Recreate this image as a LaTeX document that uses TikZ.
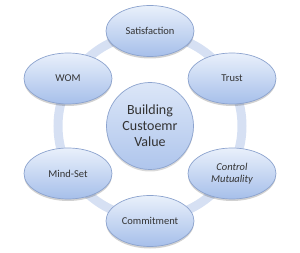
\documentclass[tikz,border=0pt]{standalone}
\usepackage{fontspec}
\setmainfont{Carlito}
\usetikzlibrary{shapes.geometric,shadows}
\definecolor{ringc}{HTML}{D6E0F3}
\definecolor{topc}{HTML}{E9F0FB}
\definecolor{botc}{HTML}{A6BFEA}
\definecolor{edgec}{HTML}{8CA3CE}
\definecolor{txtc}{HTML}{333333}
\tikzset{
  bubble/.style={ellipse, draw=edgec, line width=0.7pt, top color=topc, bottom color=botc,
    minimum width=88pt, minimum height=51pt, inner sep=0pt, text=txtc,
    font=\fontsize{10.5}{12.5}\selectfont, align=center,
    drop shadow={shadow xshift=0pt, shadow yshift=-2pt, opacity=0.18, fill=black}},
  hub/.style={circle, draw=edgec, line width=0.7pt, top color=topc!80!botc, bottom color=botc!90!white,
    minimum size=87pt, inner sep=0pt, text=txtc,
    font=\fontsize{14}{16}\selectfont, align=center,
    drop shadow={shadow xshift=0pt, shadow yshift=-2pt, opacity=0.15, fill=black}},
  ringstyle/.style={draw=ringc, line width=9pt}
}
\begin{document}
\begin{tikzpicture}[x=1pt,y=1pt]
\useasboundingbox (0,0) rectangle (300,252);
\coordinate (ctr) at (150,126);
\draw[ringstyle] (ctr) circle (92);
\node[hub] (hubn) at (ctr) {Building\\Custoemr\\Value};
\node[bubble] (sat) at (150,221) {Satisfaction};
\node[bubble] (trust) at (232,173.5) {Trust};
\node[bubble] (ctrl) at (232,78.5) {\itshape Control\\\itshape Mutuality};
\node[bubble] (comm) at (150,31) {Commitment};
\node[bubble] (mind) at (68,78.5) {Mind-Set};
\node[bubble] (wom) at (68,173.5) {WOM};
\end{tikzpicture}
\end{document}
